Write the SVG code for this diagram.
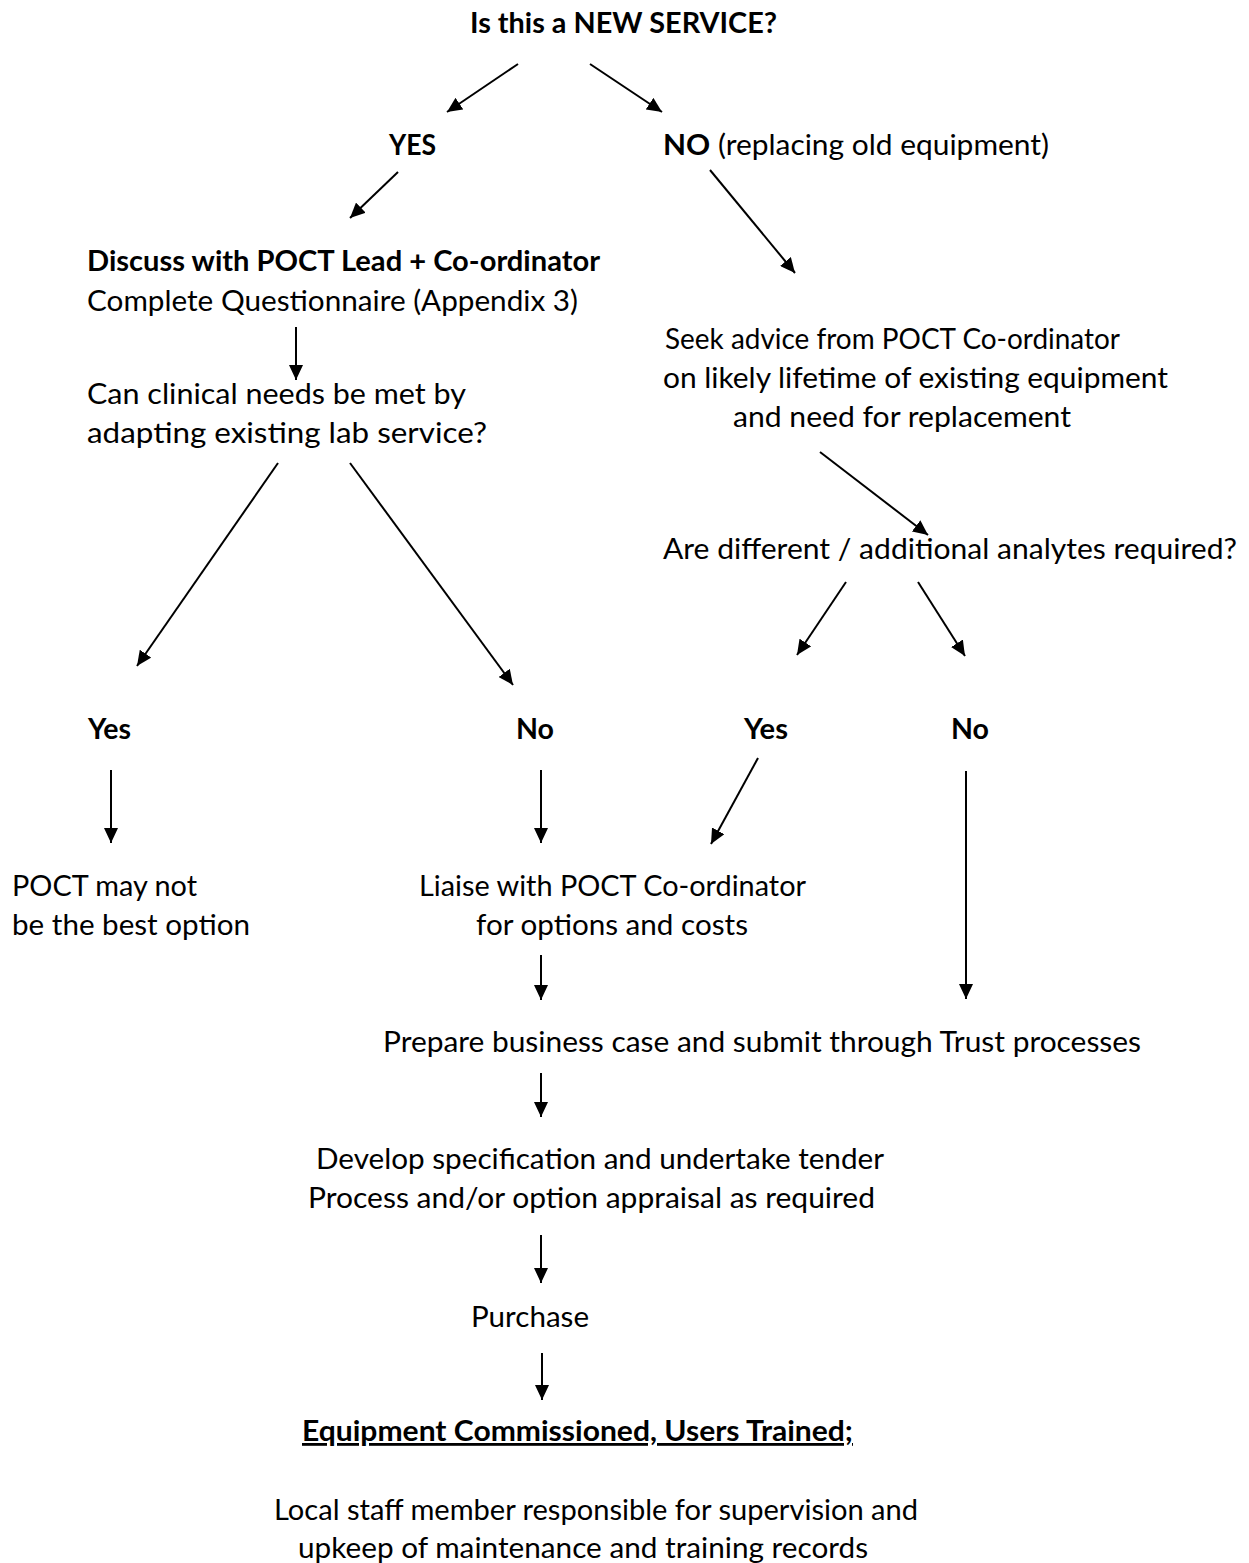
<svg xmlns="http://www.w3.org/2000/svg" width="1249" height="1563" viewBox="0 0 1249 1563">
<style>
text{font-family:Lato,"Open Sans","Liberation Sans",sans-serif;font-size:28px;fill:#000}
.b{font-weight:bold}
.conn line{stroke:#000;stroke-width:2;marker-end:url(#ah)}
</style>
<defs>
<marker id="ah" markerWidth="16" markerHeight="14" refX="15" refY="7" orient="auto" markerUnits="userSpaceOnUse"><path d="M0,0 L15,7 L0,14 z" fill="#000"/></marker>
</defs>
<rect width="1249" height="1563" fill="#fff"/>
<g id="n-new"><text class="b" x="470" y="33" textLength="307" lengthAdjust="spacingAndGlyphs">Is this a NEW SERVICE?</text></g>
<g id="n-yes"><text class="b" x="389" y="155" textLength="47" lengthAdjust="spacingAndGlyphs">YES</text></g>
<g id="n-no"><text x="663" y="155" textLength="386" lengthAdjust="spacingAndGlyphs"><tspan class="b">NO</tspan> (replacing old equipment)</text></g>
<g id="n-discuss"><text class="b" x="87" y="271" textLength="513" lengthAdjust="spacingAndGlyphs">Discuss with POCT Lead + Co-ordinator</text><text x="87" y="311" textLength="491" lengthAdjust="spacingAndGlyphs">Complete Questionnaire (Appendix 3)</text></g>
<g id="n-clinical"><text x="87" y="404" textLength="379" lengthAdjust="spacingAndGlyphs">Can clinical needs be met by</text><text x="87" y="443" textLength="400" lengthAdjust="spacingAndGlyphs">adapting existing lab service?</text></g>
<g id="n-seek"><text x="665" y="349" textLength="455" lengthAdjust="spacingAndGlyphs">Seek advice from POCT Co-ordinator</text><text x="663" y="388" textLength="505" lengthAdjust="spacingAndGlyphs">on likely lifetime of existing equipment</text><text x="733" y="427" textLength="338" lengthAdjust="spacingAndGlyphs">and need for replacement</text></g>
<g id="n-analytes"><text x="663" y="559" textLength="574" lengthAdjust="spacingAndGlyphs">Are different / additional analytes required?</text></g>
<g id="n-yes1"><text class="b" x="88" y="739" textLength="43" lengthAdjust="spacingAndGlyphs">Yes</text></g>
<g id="n-no1"><text class="b" x="516" y="739" textLength="38" lengthAdjust="spacingAndGlyphs">No</text></g>
<g id="n-yes2"><text class="b" x="744" y="739" textLength="44" lengthAdjust="spacingAndGlyphs">Yes</text></g>
<g id="n-no2"><text class="b" x="951" y="739" textLength="38" lengthAdjust="spacingAndGlyphs">No</text></g>
<g id="n-poct"><text x="12" y="896" textLength="185" lengthAdjust="spacingAndGlyphs">POCT may not</text><text x="12" y="935" textLength="238" lengthAdjust="spacingAndGlyphs">be the best option</text></g>
<g id="n-liaise"><text x="419" y="896" textLength="387" lengthAdjust="spacingAndGlyphs">Liaise with POCT Co-ordinator</text><text x="476" y="935" textLength="272" lengthAdjust="spacingAndGlyphs">for options and costs</text></g>
<g id="n-prepare"><text x="383" y="1052" textLength="758" lengthAdjust="spacingAndGlyphs">Prepare business case and submit through Trust processes</text></g>
<g id="n-develop"><text x="316" y="1169" textLength="568" lengthAdjust="spacingAndGlyphs">Develop specification and undertake tender</text><text x="308" y="1208" textLength="567" lengthAdjust="spacingAndGlyphs">Process and/or option appraisal as required</text></g>
<g id="n-purchase"><text x="471" y="1327" textLength="118" lengthAdjust="spacingAndGlyphs">Purchase</text></g>
<g id="n-equip"><text class="b" x="302" y="1441" textLength="551" lengthAdjust="spacingAndGlyphs" text-decoration="underline">Equipment Commissioned, Users Trained;</text></g>
<g id="n-local"><text x="274" y="1520" textLength="644" lengthAdjust="spacingAndGlyphs">Local staff member responsible for supervision and</text><text x="298" y="1558" textLength="570" lengthAdjust="spacingAndGlyphs">upkeep of maintenance and training records</text></g>
<g class="conn" id="connectors">
<line x1="518" y1="64" x2="447" y2="112"/>
<line x1="590" y1="64" x2="662" y2="112"/>
<line x1="398" y1="172" x2="350" y2="218"/>
<line x1="710" y1="170" x2="795" y2="273"/>
<line x1="296" y1="327" x2="296" y2="380"/>
<line x1="278" y1="463" x2="137" y2="666"/>
<line x1="350" y1="463" x2="513" y2="685"/>
<line x1="820" y1="452" x2="928" y2="535"/>
<line x1="846" y1="582" x2="797" y2="655"/>
<line x1="918" y1="582" x2="965" y2="656"/>
<line x1="111" y1="770" x2="111" y2="843"/>
<line x1="541" y1="770" x2="541" y2="843"/>
<line x1="758" y1="758" x2="711" y2="844"/>
<line x1="966" y1="771" x2="966" y2="999"/>
<line x1="541" y1="955" x2="541" y2="1000"/>
<line x1="541" y1="1073" x2="541" y2="1117"/>
<line x1="541" y1="1235" x2="541" y2="1283"/>
<line x1="542" y1="1353" x2="542" y2="1400"/>
</g>
</svg>
